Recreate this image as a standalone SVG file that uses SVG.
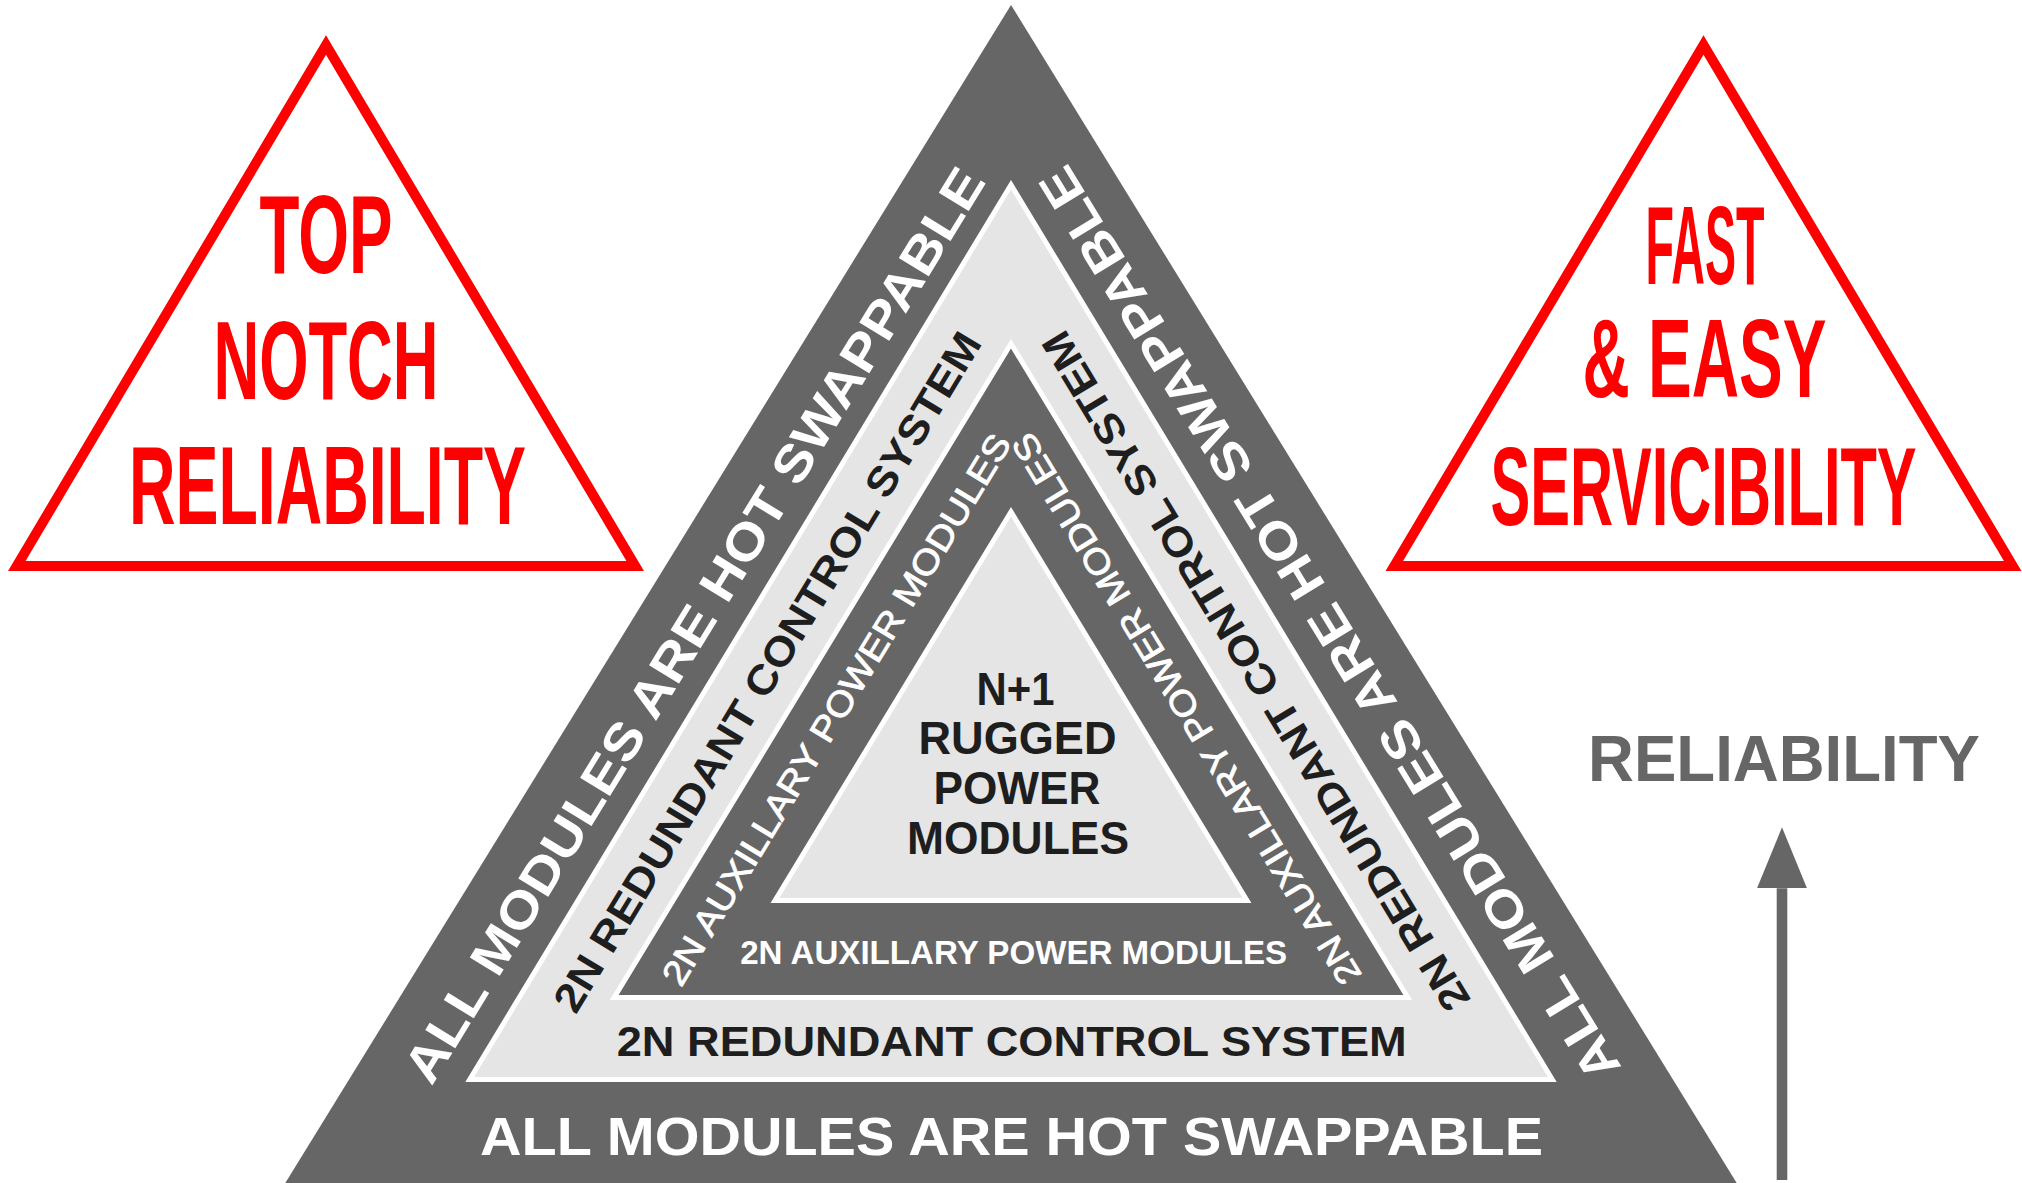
<svg xmlns="http://www.w3.org/2000/svg" width="2022" height="1183" viewBox="0 0 2022 1183">
  <defs>
    <style>
      text { font-family: "Liberation Sans", Arial, sans-serif; }
      .b { font-weight: bold; }
      .n { font-weight: normal; }
      .white { fill: #ffffff; }
      .medium { stroke: #ffffff; stroke-width: 0.8; }
      .ink { fill: #1e1e1e; }
      .red { fill: #ff0000; }
      .grey { fill: #666666; }
      .dark { fill: #666666; }
      .pale { fill: #e5e5e5; stroke: #ffffff; stroke-width: 5; stroke-linejoin: miter; }
      .darkband { fill: #666666; stroke: #ffffff; stroke-width: 5; stroke-linejoin: miter; }
      .badge { fill: #ffffff; stroke: #ff0000; stroke-width: 10; stroke-linejoin: miter; }
      .arrow { stroke: #666666; stroke-width: 10.6; fill: none; }
    </style>
    <marker id="arrowhead" markerUnits="userSpaceOnUse" markerWidth="61" markerHeight="50" viewBox="0 0 61 50" refX="0" refY="25" orient="auto">
      <path d="M0,0 L61,25 L0,50 Z" fill="#666666"/>
    </marker>
  </defs>

  <rect width="2022" height="1183" fill="#ffffff"/>

  <!-- left badge -->
  <g id="badge-reliability">
    <polygon class="badge" points="326,45 16.8,566 635.2,566"/>
    <text class="red b" x="326" y="273" font-size="112" text-anchor="middle" textLength="133" lengthAdjust="spacingAndGlyphs">TOP</text>
    <text class="red b" x="326" y="399" font-size="112" text-anchor="middle" textLength="225" lengthAdjust="spacingAndGlyphs">NOTCH</text>
    <text class="red b" x="327.5" y="523.5" font-size="112" text-anchor="middle" textLength="397" lengthAdjust="spacingAndGlyphs">RELIABILITY</text>
  </g>

  <!-- right badge -->
  <g id="badge-service">
    <polygon class="badge" points="1703.5,45 1394.3,566 2012.7,566"/>
    <text class="red b" x="1705" y="283.7" font-size="112" text-anchor="middle" textLength="119" lengthAdjust="spacingAndGlyphs">FAST</text>
    <text class="red b" x="1704.5" y="396.7" font-size="112" text-anchor="middle" textLength="244" lengthAdjust="spacingAndGlyphs">&amp; EASY</text>
    <text class="red b" x="1703.6" y="525.3" font-size="112" text-anchor="middle" textLength="426" lengthAdjust="spacingAndGlyphs">SERVICIBILITY</text>
  </g>

  <!-- outer band: hot swappable modules -->
  <g id="band-hot-swap">
    <polygon class="dark" points="1011,5 281,1190 1741,1190"/>
    <text class="white b" transform="translate(709.2,634.2) rotate(-58.48)" x="0" y="0" font-size="51" text-anchor="middle" textLength="1062" lengthAdjust="spacingAndGlyphs">ALL MODULES ARE HOT SWAPPABLE</text>
    <text class="white b" transform="translate(1344.3,614.8) rotate(-121.52)" x="0" y="0" font-size="51" text-anchor="middle" textLength="1062" lengthAdjust="spacingAndGlyphs">ALL MODULES ARE HOT SWAPPABLE</text>
    <text class="white b" x="1011.5" y="1155" font-size="54.5" text-anchor="middle" textLength="1063" lengthAdjust="spacingAndGlyphs">ALL MODULES ARE HOT SWAPPABLE</text>
  </g>

  <!-- second band: redundant control system -->
  <g id="band-control">
    <polygon class="pale" points="1011,184.8 469.7,1079.5 1552.3,1079.5"/>
    <text class="ink b" transform="translate(779.3,679.1) rotate(-58.8)" x="0" y="0" font-size="41" text-anchor="middle" textLength="786" lengthAdjust="spacingAndGlyphs">2N REDUNDANT CONTROL SYSTEM</text>
    <text class="ink b" transform="translate(1267.9,663.9) rotate(-121.2)" x="0" y="0" font-size="41" text-anchor="middle" textLength="786" lengthAdjust="spacingAndGlyphs">2N REDUNDANT CONTROL SYSTEM</text>
    <text class="ink b" x="1011.7" y="1056" font-size="42" text-anchor="middle" textLength="790" lengthAdjust="spacingAndGlyphs">2N REDUNDANT CONTROL SYSTEM</text>
  </g>

  <!-- third band: auxiliary power modules -->
  <g id="band-auxiliary">
    <polygon class="darkband" points="1011,343.8 614.2,997.5 1407.8,997.5"/>
    <text class="white medium n" transform="translate(846.7,715.8) rotate(-58.7)" x="0" y="0" font-size="35" text-anchor="middle" textLength="638" lengthAdjust="spacingAndGlyphs">2N AUXILLARY POWER MODULES</text>
    <text class="white medium n" transform="translate(1196.7,702.8) rotate(-121.3)" x="0" y="0" font-size="35" text-anchor="middle" textLength="638" lengthAdjust="spacingAndGlyphs">2N AUXILLARY POWER MODULES</text>
    <text class="white b" x="1013.7" y="964" font-size="33.5" text-anchor="middle" textLength="547" lengthAdjust="spacingAndGlyphs">2N AUXILLARY POWER MODULES</text>
  </g>

  <!-- core: rugged power modules -->
  <g id="core-power">
    <polygon class="pale" points="1011,511.8 775,900.5 1247,900.5"/>
    <text class="ink b" x="1015.5" y="705.4" font-size="47" text-anchor="middle" textLength="78" lengthAdjust="spacingAndGlyphs">N+1</text>
    <text class="ink b" x="1017.5" y="754.4" font-size="47" text-anchor="middle" textLength="198" lengthAdjust="spacingAndGlyphs">RUGGED</text>
    <text class="ink b" x="1017" y="804.2" font-size="47" text-anchor="middle" textLength="167" lengthAdjust="spacingAndGlyphs">POWER</text>
    <text class="ink b" x="1018" y="854" font-size="47" text-anchor="middle" textLength="222" lengthAdjust="spacingAndGlyphs">MODULES</text>
  </g>

  <!-- axis label -->
  <g id="axis-reliability">
    <text class="grey b" x="1784" y="781" font-size="65" text-anchor="middle" textLength="392" lengthAdjust="spacingAndGlyphs">RELIABILITY</text>
  </g>

  <!-- connectors -->
  <g id="connectors">
    <line class="arrow" x1="1782" y1="1180" x2="1782" y2="888.3" marker-end="url(#arrowhead)"/>
  </g>
</svg>
